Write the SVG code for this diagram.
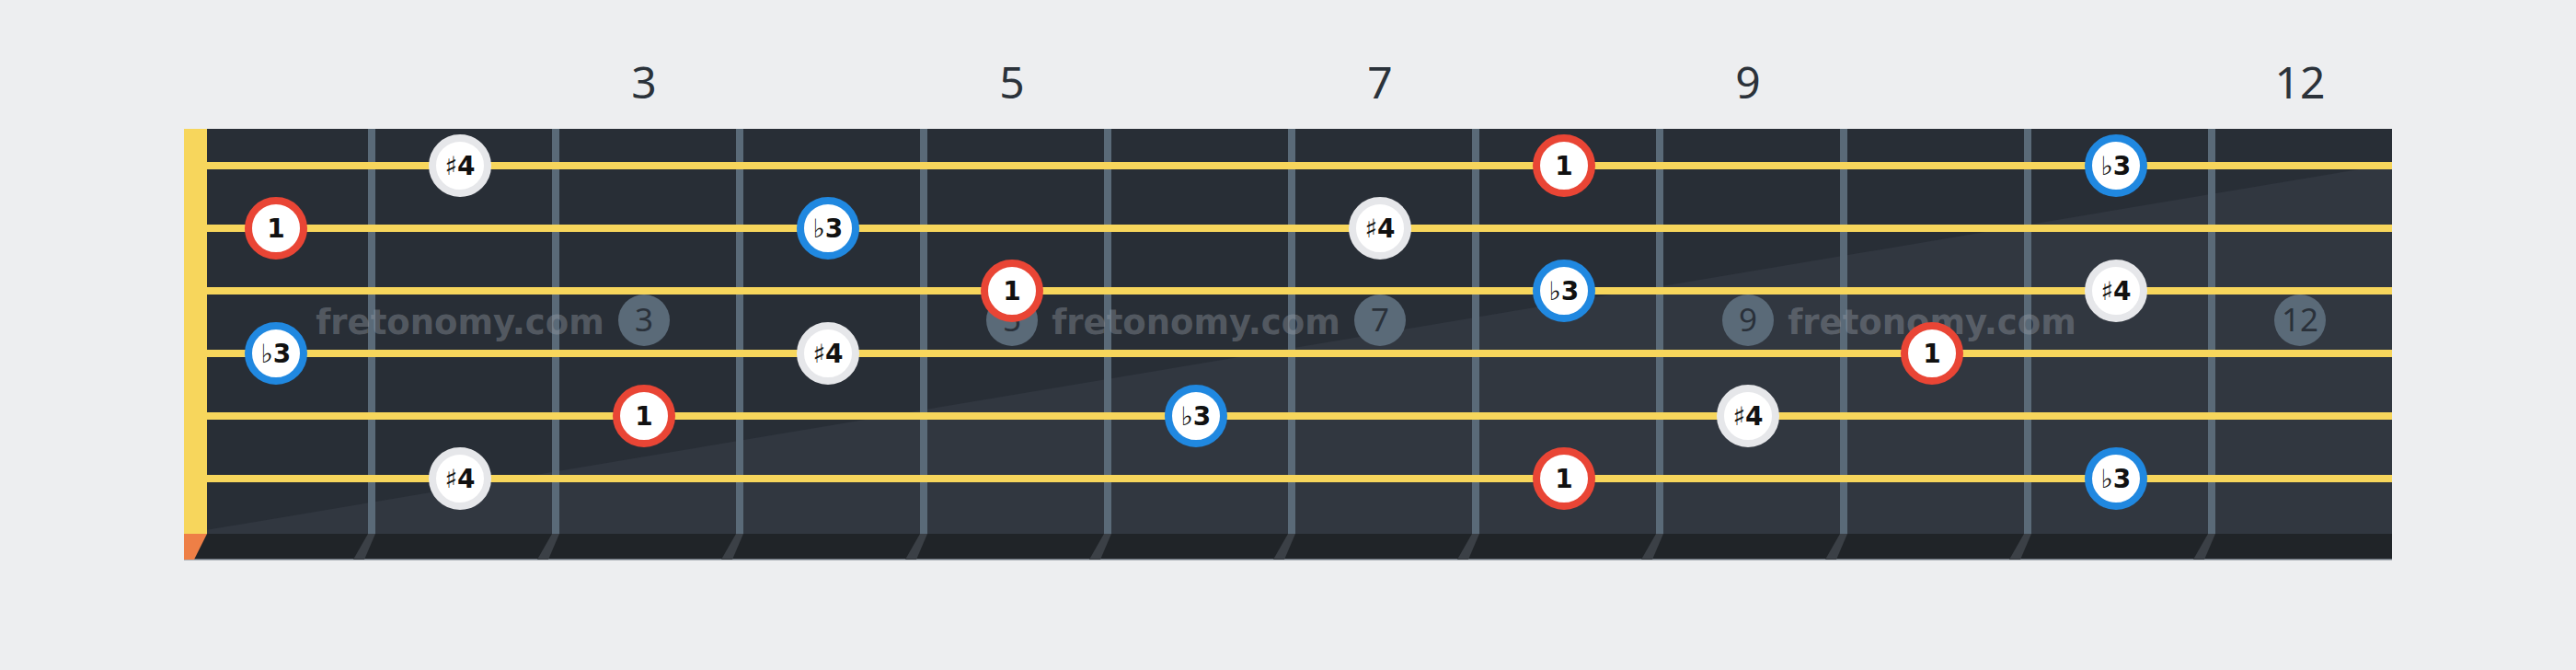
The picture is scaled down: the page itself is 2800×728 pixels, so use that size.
<svg xmlns="http://www.w3.org/2000/svg" width="2800" height="728" viewBox="0 0 2800 728">
<style>
.fretnum{font-family:"Noto Sans","DejaVu Sans",sans-serif;font-size:48px;fill:#2b323a;text-anchor:middle}
.wm{font-family:"DejaVu Sans",sans-serif;font-weight:bold;font-size:37px;fill:#9aa0a8;fill-opacity:0.4;text-anchor:middle}
.mk{fill:#5a6a78}
.mkt{font-family:"Noto Sans","DejaVu Sans",sans-serif;font-size:35px;fill:#2a313a;text-anchor:middle}
.fret{fill:#5a6a78}
.foot{fill:#3b4046}
.str{stroke:#f7d65c;stroke-width:8}
.note circle{fill:#fff;stroke-width:8}
.r circle{stroke:#e94535}
.b circle{stroke:#2088e0}
.s circle{stroke:#e6e7ea}
.nt{font-family:"DejaVu Sans",sans-serif;font-size:28px;font-weight:bold;fill:#111;text-anchor:middle}
.acc{font-weight:normal}
</style>
<rect width="2800" height="728" fill="#edeef0"/>
<g id="fret-numbers">
<text class="fretnum" x="700" y="107">3</text>
<text class="fretnum" x="1100" y="107">5</text>
<text class="fretnum" x="1500" y="107">7</text>
<text class="fretnum" x="1900" y="107">9</text>
<text class="fretnum" x="2500" y="107">12</text>
</g>
<g id="fretboard">
<rect x="200" y="140" width="2400" height="440" fill="#282e36"/>
<polygon points="200,580 2600,178 2600,580" fill="#313740"/>
<rect x="200" y="580" width="2400" height="28" fill="#202428"/>
<rect x="200" y="607" width="2400" height="1.5" fill="#6a737c"/>
</g>
<g id="frets">
<rect class="fret" x="400" y="140" width="8" height="440"/>
<rect class="fret" x="600" y="140" width="8" height="440"/>
<rect class="fret" x="800" y="140" width="8" height="440"/>
<rect class="fret" x="1000" y="140" width="8" height="440"/>
<rect class="fret" x="1200" y="140" width="8" height="440"/>
<rect class="fret" x="1400" y="140" width="8" height="440"/>
<rect class="fret" x="1600" y="140" width="8" height="440"/>
<rect class="fret" x="1800" y="140" width="8" height="440"/>
<rect class="fret" x="2000" y="140" width="8" height="440"/>
<rect class="fret" x="2200" y="140" width="8" height="440"/>
<rect class="fret" x="2400" y="140" width="8" height="440"/>
<polygon class="foot" points="400,580 408,580 396,608 384,608"/>
<polygon class="foot" points="600,580 608,580 596,608 584,608"/>
<polygon class="foot" points="800,580 808,580 796,608 784,608"/>
<polygon class="foot" points="1000,580 1008,580 996,608 984,608"/>
<polygon class="foot" points="1200,580 1208,580 1196,608 1184,608"/>
<polygon class="foot" points="1400,580 1408,580 1396,608 1384,608"/>
<polygon class="foot" points="1600,580 1608,580 1596,608 1584,608"/>
<polygon class="foot" points="1800,580 1808,580 1796,608 1784,608"/>
<polygon class="foot" points="2000,580 2008,580 1996,608 1984,608"/>
<polygon class="foot" points="2200,580 2208,580 2196,608 2184,608"/>
<polygon class="foot" points="2400,580 2408,580 2396,608 2384,608"/>
</g>
<g id="nut">
<rect x="200" y="140" width="25" height="440" fill="#f7d65c"/>
<polygon points="200,580 225,580 211,608 200,608" fill="#ee7f46"/>
</g>
<g id="markers">
<circle class="mk" cx="700" cy="348" r="28"/><text class="mkt" x="700" y="360">3</text>
<circle class="mk" cx="1100" cy="348" r="28"/><text class="mkt" x="1100" y="360">5</text>
<circle class="mk" cx="1500" cy="348" r="28"/><text class="mkt" x="1500" y="360">7</text>
<circle class="mk" cx="1900" cy="348" r="28"/><text class="mkt" x="1900" y="360">9</text>
<circle class="mk" cx="2500" cy="348" r="28"/><text class="mkt" x="2500" y="360">12</text>
</g>
<g id="watermarks">
<text class="wm" x="500" y="363">fretonomy.com</text>
<text class="wm" x="1300" y="363">fretonomy.com</text>
<text class="wm" x="2100" y="363">fretonomy.com</text>
</g>
<g id="strings">
<line class="str" x1="225" y1="180" x2="2600" y2="180"/>
<line class="str" x1="225" y1="248" x2="2600" y2="248"/>
<line class="str" x1="225" y1="316" x2="2600" y2="316"/>
<line class="str" x1="225" y1="384" x2="2600" y2="384"/>
<line class="str" x1="225" y1="452" x2="2600" y2="452"/>
<line class="str" x1="225" y1="520" x2="2600" y2="520"/>
</g>
<g id="connectors"></g>
<g id="n1-2" class="note s"><circle cx="500" cy="180" r="30"/><text class="nt" x="500" y="190"><tspan class="acc">♯</tspan>4</text></g>
<g id="n1-8" class="note r"><circle cx="1700" cy="180" r="30"/><text class="nt" x="1700" y="190">1</text></g>
<g id="n1-11" class="note b"><circle cx="2300" cy="180" r="30"/><text class="nt" x="2300" y="190"><tspan class="acc">♭</tspan>3</text></g>
<g id="n2-1" class="note r"><circle cx="300" cy="248" r="30"/><text class="nt" x="300" y="258">1</text></g>
<g id="n2-4" class="note b"><circle cx="900" cy="248" r="30"/><text class="nt" x="900" y="258"><tspan class="acc">♭</tspan>3</text></g>
<g id="n2-7" class="note s"><circle cx="1500" cy="248" r="30"/><text class="nt" x="1500" y="258"><tspan class="acc">♯</tspan>4</text></g>
<g id="n3-5" class="note r"><circle cx="1100" cy="316" r="30"/><text class="nt" x="1100" y="326">1</text></g>
<g id="n3-8" class="note b"><circle cx="1700" cy="316" r="30"/><text class="nt" x="1700" y="326"><tspan class="acc">♭</tspan>3</text></g>
<g id="n3-11" class="note s"><circle cx="2300" cy="316" r="30"/><text class="nt" x="2300" y="326"><tspan class="acc">♯</tspan>4</text></g>
<g id="n4-1" class="note b"><circle cx="300" cy="384" r="30"/><text class="nt" x="300" y="394"><tspan class="acc">♭</tspan>3</text></g>
<g id="n4-4" class="note s"><circle cx="900" cy="384" r="30"/><text class="nt" x="900" y="394"><tspan class="acc">♯</tspan>4</text></g>
<g id="n4-10" class="note r"><circle cx="2100" cy="384" r="30"/><text class="nt" x="2100" y="394">1</text></g>
<g id="n5-3" class="note r"><circle cx="700" cy="452" r="30"/><text class="nt" x="700" y="462">1</text></g>
<g id="n5-6" class="note b"><circle cx="1300" cy="452" r="30"/><text class="nt" x="1300" y="462"><tspan class="acc">♭</tspan>3</text></g>
<g id="n5-9" class="note s"><circle cx="1900" cy="452" r="30"/><text class="nt" x="1900" y="462"><tspan class="acc">♯</tspan>4</text></g>
<g id="n6-2" class="note s"><circle cx="500" cy="520" r="30"/><text class="nt" x="500" y="530"><tspan class="acc">♯</tspan>4</text></g>
<g id="n6-8" class="note r"><circle cx="1700" cy="520" r="30"/><text class="nt" x="1700" y="530">1</text></g>
<g id="n6-11" class="note b"><circle cx="2300" cy="520" r="30"/><text class="nt" x="2300" y="530"><tspan class="acc">♭</tspan>3</text></g>
</svg>
